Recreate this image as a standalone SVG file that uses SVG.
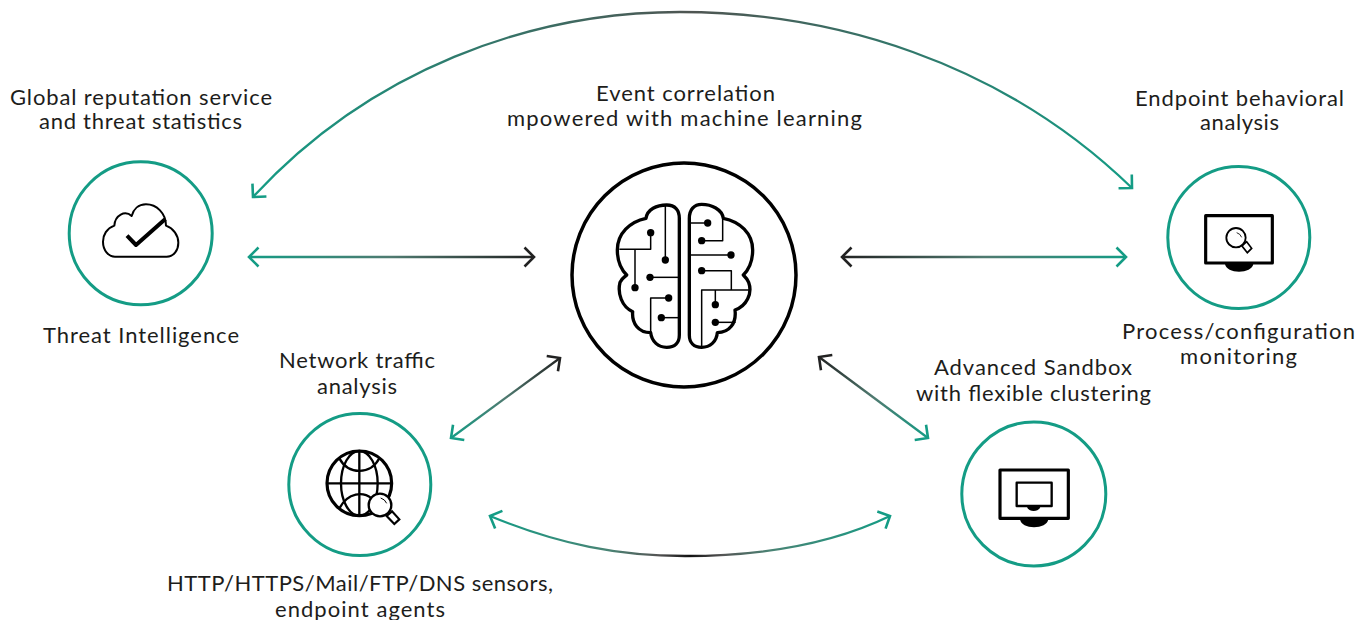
<svg xmlns="http://www.w3.org/2000/svg" width="1357" height="620" viewBox="0 0 1357 620">
<style>
text{font-family:"Lato","Noto Sans",sans-serif;font-size:22px;fill:#1d1d1b;text-anchor:middle}
.ring{fill:#fff;stroke:#149c85;stroke-width:3}
.ink{fill:none;stroke:#000;stroke-linejoin:round;stroke-linecap:butt}
.conn{fill:none;stroke-width:2.300}
.dot{fill:#000;stroke:none}
.solid{fill:#000;stroke:none}
</style>
<defs>
<linearGradient id="gTop" gradientUnits="userSpaceOnUse" x1="252" y1="0" x2="1132" y2="0"><stop offset="0" stop-color="#149c85"/><stop offset="0.5" stop-color="#4f5552"/><stop offset="1" stop-color="#149c85"/></linearGradient>
<linearGradient id="gBot" gradientUnits="userSpaceOnUse" x1="489" y1="0" x2="891" y2="0"><stop offset="0" stop-color="#149c85"/><stop offset="0.3" stop-color="#4a8374"/><stop offset="0.42" stop-color="#555"/><stop offset="0.5" stop-color="#111"/><stop offset="0.58" stop-color="#555"/><stop offset="0.7" stop-color="#4a8374"/><stop offset="1" stop-color="#149c85"/></linearGradient>
<linearGradient id="gH1" gradientUnits="userSpaceOnUse" x1="248" y1="0" x2="535" y2="0"><stop offset="0" stop-color="#149c85"/><stop offset="0.5" stop-color="#4f7a70"/><stop offset="1" stop-color="#222"/></linearGradient>
<linearGradient id="gH2" gradientUnits="userSpaceOnUse" x1="841" y1="0" x2="1127" y2="0"><stop offset="0" stop-color="#222"/><stop offset="0.5" stop-color="#4f7a70"/><stop offset="1" stop-color="#149c85"/></linearGradient>
<linearGradient id="gD1" gradientUnits="userSpaceOnUse" x1="450" y1="438" x2="561" y2="358"><stop offset="0" stop-color="#149c85"/><stop offset="0.5" stop-color="#4f7a70"/><stop offset="1" stop-color="#222"/></linearGradient>
<linearGradient id="gD2" gradientUnits="userSpaceOnUse" x1="818" y1="357" x2="929" y2="438"><stop offset="0" stop-color="#222"/><stop offset="0.5" stop-color="#4f7a70"/><stop offset="1" stop-color="#149c85"/></linearGradient>
<marker id="hG" markerUnits="userSpaceOnUse" markerWidth="30" markerHeight="30" viewBox="-15 -15 30 30" refX="0" refY="0" orient="auto-start-reverse" overflow="visible"><path d="M-9.500,-9.500 L0,0 L-9.500,9.500" fill="none" stroke="#149c85" stroke-width="2.600"/></marker>
<marker id="hD" markerUnits="userSpaceOnUse" markerWidth="30" markerHeight="30" viewBox="-15 -15 30 30" refX="0" refY="0" orient="auto-start-reverse" overflow="visible"><path d="M-9.500,-9.500 L0,0 L-9.500,9.500" fill="none" stroke="#222" stroke-width="2.600"/></marker>
</defs>
<rect width="1357" height="620" fill="#fff"/>

<g id="connectors">
<path class="conn" stroke="url(#gTop)" marker-start="url(#hG)" marker-end="url(#hG)" d="M253,197 C370,70 530,12 680,12 C830,12 1000,60 1132,188"/>
<path class="conn" stroke="url(#gH1)" marker-start="url(#hG)" marker-end="url(#hD)" d="M249,257 H534"/>
<path class="conn" stroke="url(#gH2)" marker-start="url(#hD)" marker-end="url(#hG)" d="M842,257 H1126"/>
<path class="conn" stroke="url(#gD1)" marker-start="url(#hG)" marker-end="url(#hD)" d="M451,438 L560,358"/>
<path class="conn" stroke="url(#gD2)" marker-start="url(#hD)" marker-end="url(#hG)" d="M819,357 L928,438"/>
<path class="conn" stroke="url(#gBot)" marker-start="url(#hG)" marker-end="url(#hG)" d="M490,516 C560,545 620,556 685,556 C760,556 830,545 890,516"/>
</g>

<g id="node-brain">
<circle cx="684" cy="275" r="112" fill="#fff" stroke="#000" stroke-width="3.500"/>
<g transform="translate(560,150) scale(.33333)">
<path class="ink" stroke-width="10" d="M320,165 C345,165 358,180 358,205 V555 C358,578 345,592 320,592 C295,592 275,575 272,548 C235,548 215,520 218,485 C185,470 172,430 180,397 C185,385 195,380 200,375 C180,355 172,330 172,300 C172,250 210,215 258,205 C262,178 290,165 320,165Z"/>
<path class="ink" stroke-width="10" d="M425,163 C402,163 388,180 388,205 V555 C388,578 402,592 425,592 C450,592 470,575 472,548 C508,548 530,520 525,480 C560,468 578,430 566,397 C562,387 555,380 550,375 C570,355 578,330 578,300 C578,250 540,215 490,205 C486,178 455,163 425,163Z"/>
<g class="ink" stroke-width="4.500">
<path d="M178,298 H272 V248"/><path d="M225,298 V413"/><path d="M316,165 V330"/><path d="M270,382 H358"/><path d="M326,444 H272 V550"/><path d="M304,503 H358"/>
<path d="M388,219 H443"/><path d="M425,272 H488 V205"/><path d="M388,315 H513"/><path d="M425,362 H514 V420"/><path d="M425,590 V420 H570"/><path d="M466,420 V464"/><path d="M466,517 H527"/>
</g>
<g class="dot">
<circle cx="272" cy="248" r="11"/><circle cx="225" cy="413" r="11"/><circle cx="316" cy="330" r="11"/><circle cx="270" cy="382" r="11"/><circle cx="326" cy="444" r="11"/><circle cx="304" cy="503" r="11"/>
<circle cx="443" cy="219" r="11"/><circle cx="425" cy="272" r="11"/><circle cx="513" cy="315" r="11"/><circle cx="425" cy="362" r="11"/><circle cx="466" cy="464" r="11"/><circle cx="466" cy="517" r="11"/>
</g>
</g>
</g>

<g id="node-threat-intelligence">
<circle class="ring" cx="140.700" cy="233.300" r="71.500"/>
<g transform="translate(60,160) scale(.33333)">
<path class="ink" stroke-width="6" d="M165,290 H320 C342,290 355,270 355,248 C355,225 340,205 318,197 C318,160 290,133 258,133 C235,133 220,148 215,168 C195,150 165,165 163,197 C140,205 129,225 129,245 C129,270 145,290 165,290Z"/>
<path class="ink" stroke-width="12" d="M201,227 L228,255 L316,177"/>
</g>
</g>

<g id="node-network-traffic">
<circle class="ring" cx="359.800" cy="484.500" r="71"/>
<g transform="translate(280,410) scale(.33333)">
<circle class="ink" stroke-width="9.500" cx="238" cy="220" r="97"/>
<g class="ink" stroke-width="7">
<ellipse cx="238" cy="220" rx="55" ry="97"/>
<path d="M238,123 V317"/><path d="M141,220 H335"/>
<path d="M178,145 C205,195 272,195 298,145"/>
<path d="M178,295 C205,245 250,245 275,265"/>
</g>
<path fill="#fff" stroke="#000" stroke-width="6.500" stroke-linejoin="miter" d="M320,318 L336,304 L358,328 L343,342Z"/>
<circle cx="300" cy="285" r="34" fill="#fff" stroke="#000" stroke-width="7"/>
<path class="ink" stroke-width="3" d="M302,264 Q315,268 320,280"/>
</g>
</g>

<g id="node-sandbox">
<circle class="ring" cx="1033.800" cy="494" r="72"/>
<g transform="translate(955,420) scale(.33333)">
<rect class="ink" stroke-width="9.500" x="135" y="150" width="205" height="145"/>
<path class="solid" d="M195,298 H280 C278,314 258,322 237,322 C216,322 197,314 195,298Z"/>
<rect class="ink" stroke-width="7" x="185" y="188" width="105" height="70"/>
<path class="solid" d="M216,260 H256 C254,268 246,273 236,273 C226,273 218,268 216,260Z"/>
</g>
</g>

<g id="node-endpoint">
<circle class="ring" cx="1238.800" cy="237.500" r="71"/>
<g transform="translate(1160,160) scale(.33333)">
<rect class="ink" stroke-width="9.500" x="137" y="167" width="200" height="142"/>
<path class="solid" d="M195,312 H280 C278,327 258,335 237,335 C216,335 197,327 195,312Z"/>
<path fill="#fff" stroke="#000" stroke-width="5" stroke-linejoin="miter" d="M246,258 L260,245 L275,265 L262,278Z"/>
<circle cx="228" cy="233" r="29" fill="#fff" stroke="#000" stroke-width="5.500"/>
<path class="ink" stroke-width="2.500" d="M230,218 Q241,221 245,232"/>
</g>
</g>

<g id="labels">
<text x="685.500" y="101" textLength="179">Event correlation</text>
<text x="684.500" y="126" textLength="355">mpowered with machine learning</text>
<text x="141" y="105" textLength="262">Global reputation service</text>
<text x="140.500" y="129" textLength="203">and threat statistics</text>
<text x="141" y="343" textLength="196">Threat Intelligence</text>
<text x="357" y="368" textLength="156">Network traffic</text>
<text x="357" y="394" textLength="80">analysis</text>
<text x="360" y="591" textLength="386">HTTP/HTTPS/Mail/FTP/DNS sensors,</text>
<text x="360" y="617" textLength="170">endpoint agents</text>
<text x="1033" y="375" textLength="198">Advanced Sandbox</text>
<text x="1033.500" y="401" textLength="235">with flexible clustering</text>
<text x="1239.500" y="106" textLength="209">Endpoint behavioral</text>
<text x="1239.500" y="130" textLength="79">analysis</text>
<text x="1238.500" y="339" textLength="233">Process/configuration</text>
<text x="1238.500" y="364" textLength="117">monitoring</text>
</g>
</svg>
